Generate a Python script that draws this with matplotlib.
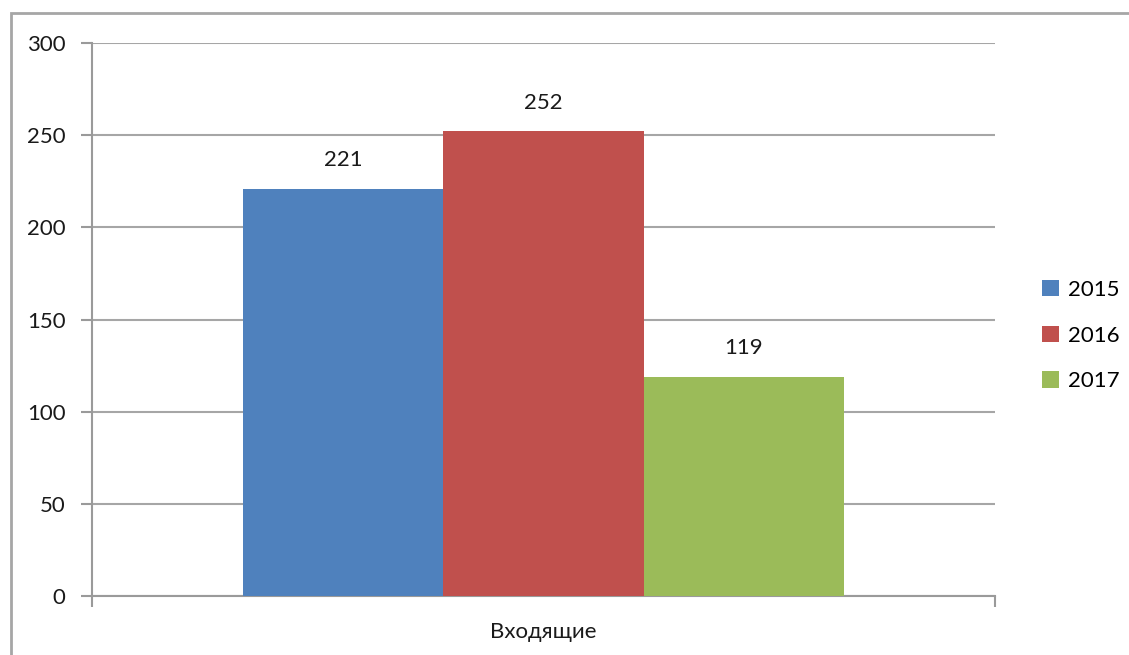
import matplotlib.pyplot as plt
from matplotlib.patches import Rectangle

plt.rcParams['font.family'] = ['Lato', 'DejaVu Sans']

# данные
categoria = 'Входящие'
anios = ['2015', '2016', '2017']
valores = [221, 252, 119]
colores = ['#4F81BD', '#C0504D', '#9BBB59']

fig = plt.figure(figsize=(11.29, 6.55), dpi=100)
ax = fig.add_axes([92 / 1129, 1 - 596 / 655, 903 / 1129, 553 / 655])

ancho = 0.2215
inicio = 0.5 - 1.5 * ancho
for i, (a, v, c) in enumerate(zip(anios, valores, colores)):
    x = inicio + ancho * (i + 0.5)
    ax.bar(x, v, width=ancho, color=c, label=a, zorder=3)
    ax.text(x, v + 10, str(v), ha='center', va='bottom', fontsize=16, color='#1a1a1a')

ax.set_xlim(0, 1)
ax.set_ylim(0, 300)
ax.set_yticks(range(0, 301, 50))
ax.tick_params(axis='y', length=8, width=1.5, color='#9a9a9a', labelsize=16, pad=11, labelcolor='#1a1a1a')
ax.set_xticks([0, 1])
ax.set_xticklabels(['', ''])
ax.tick_params(axis='x', length=8, width=1.5, color='#9a9a9a')
ax.text(0.5, -0.065, categoria, transform=ax.transAxes, ha='center', va='center', fontsize=16, color='#1a1a1a')

ax.grid(axis='y', color='#a6a6a6', linewidth=1.5, zorder=0)
for s in ['top', 'right']:
    ax.spines[s].set_visible(False)
for s in ['left', 'bottom']:
    ax.spines[s].set_color('#9a9a9a')
    ax.spines[s].set_linewidth(1.5)

leg = fig.legend(loc='upper left', bbox_to_anchor=(1022 / 1129, 1 - 260 / 655), frameon=False,
                 fontsize=16, handlelength=0.75, handleheight=0.75, handletextpad=0.4, labelspacing=1.15)

# marco exterior
fig.patches.append(Rectangle((11 / 1129, -0.1), 1.2, 1 - 13 / 655 + 0.1, transform=fig.transFigure,
                             fill=False, edgecolor='#a6a6a6', linewidth=2))

fig.savefig('out.png', dpi=100)
